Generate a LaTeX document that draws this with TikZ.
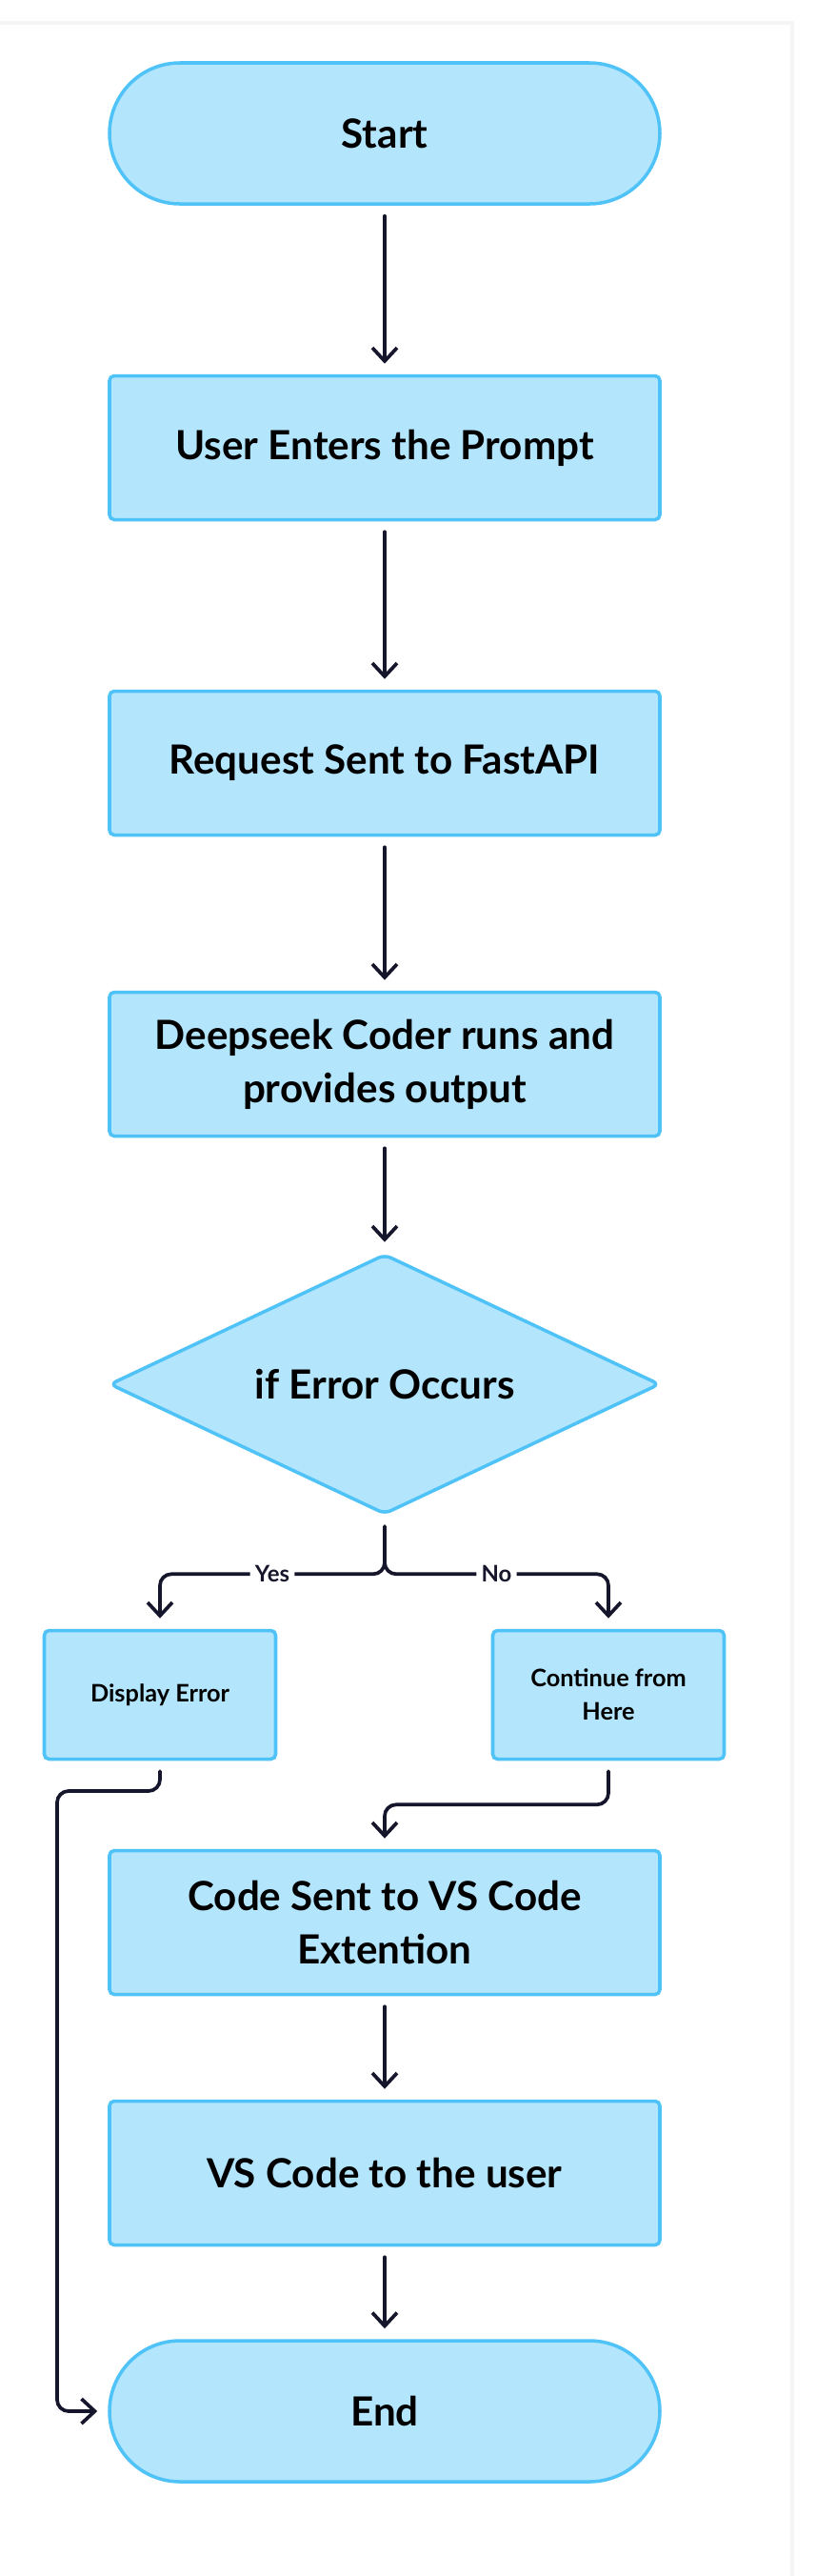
\documentclass[tikz,border=0pt]{standalone}
\usepackage{fontspec}
\setmainfont{Lato}
\usetikzlibrary{shapes.geometric,arrows.meta}

\definecolor{boxfill}{HTML}{B3E5FC}
\definecolor{boxline}{HTML}{4FC3F7}
\definecolor{ink}{HTML}{15152B}

\tikzset{
  term/.style={draw=boxline, fill=boxfill, line width=1pt, rounded corners=0.74cm,
    minimum width=5.78cm, minimum height=1.48cm, inner sep=0pt, align=center,
    font=\fontsize{12}{16}\selectfont\bfseries},
  proc/.style={draw=boxline, fill=boxfill, line width=1pt, rounded corners=0.05cm,
    minimum width=5.78cm, minimum height=1.51cm, inner sep=0pt, align=center,
    font=\fontsize{12}{16}\selectfont\bfseries},
  smallproc/.style={proc, minimum width=2.43cm, minimum height=1.35cm,
    font=\fontsize{7.2}{10}\selectfont\bfseries},
  dec/.style={diamond, draw=boxline, fill=boxfill, line width=1pt, rounded corners=2pt,
    aspect=2.12, minimum width=5.78cm, minimum height=2.73cm, inner sep=0pt,
    font=\fontsize{12}{16}\selectfont\bfseries},
  flow/.style={draw=ink, line width=1.05pt, line cap=round, line join=round,
    rounded corners=0.12cm, shorten <=0.11cm, shorten >=0.11cm,
    -{Straight Barb[length=1.4mm, width=2.6mm, line width=1.05pt]}},
  lbl/.style={fill=white, inner sep=1.5pt, text=ink, font=\fontsize{6.8}{8}\selectfont\bfseries}
}

\begin{document}
\begin{tikzpicture}
    \useasboundingbox (0,0) rectangle (8.56,-27.04);
    \draw[draw=black!4, line width=1.2pt, fill=white] (-0.2,-0.24) rectangle (8.32,-27.3);

    \node[term] (start) at (4.04,-1.40) {Start};
    \node[proc] (user) at (4.04,-4.70) {User Enters the Prompt};
    \node[proc] (req) at (4.04,-8.01) {Request Sent to FastAPI};
    \node[proc] (deep) at (4.04,-11.17) {Deepseek Coder runs and\\provides output};
    \node[dec] (err) at (4.04,-14.53) {if Error Occurs};

    \node[smallproc] (disp) at (1.68,-17.79) {Display Error};
    \node[smallproc] (cont) at (6.39,-17.79) {Continue from\\Here};

    \node[proc] (code) at (4.04,-20.18) {Code Sent to VS Code\\Extention};
    \node[proc] (vs) at (4.04,-22.81) {VS Code to the user};
    \node[term] (end) at (4.04,-25.31) {End};

    \coordinate (rail) at (0.60,-18.80);

    \draw[flow] (start) -- (user);
    \draw[flow] (user) -- (req);
    \draw[flow] (req) -- (deep);
    \draw[flow] (deep) -- (err);
    \draw[flow] (err.south) -- ++(0,-0.61) -| node[lbl, pos=0.25] {Yes} (disp.north);
    \draw[flow] (err.south) -- ++(0,-0.61) -| node[lbl, pos=0.25] {No} (cont.north);
    \draw[flow] (disp.south) |- (rail) |- (end.west);
    \draw[flow] (cont.south) -- ++(0,-0.46) -| (code.north);
    \draw[flow] (code) -- (vs);
    \draw[flow] (vs) -- (end);
\end{tikzpicture}
\end{document}
